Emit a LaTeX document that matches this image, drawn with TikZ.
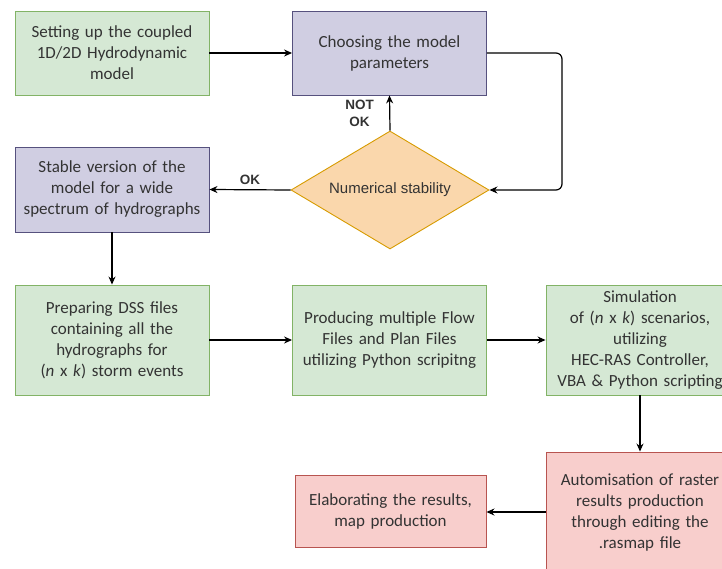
\documentclass[tikz,border=0pt]{standalone}
\usepackage{fontspec}
\setmainfont{Carlito}
\newfontfamily\arialfont{Liberation Sans}
\usetikzlibrary{shapes.geometric,arrows.meta,calc,positioning}
\definecolor{greenfill}{HTML}{D5E8D4}
\definecolor{greenline}{HTML}{82B366}
\definecolor{purplefill}{HTML}{D0CEE2}
\definecolor{purpleline}{HTML}{56517E}
\definecolor{orangefill}{HTML}{FAD7AC}
\definecolor{orangeline}{HTML}{D79B00}
\definecolor{redfill}{HTML}{F8CECC}
\definecolor{redline}{HTML}{B85450}
\definecolor{txt}{HTML}{333333}

\begin{document}
\begin{tikzpicture}[x=1pt,y=-1pt,
    box/.style={rectangle, draw, line width=0.9pt, align=center, inner sep=0pt,
      minimum width=194pt, text width=186pt, text=txt,
      font=\fontsize{17}{21}\selectfont},
    greenbox/.style={box, fill=greenfill, draw=greenline},
    purplebox/.style={box, fill=purplefill, draw=purpleline},
    redbox/.style={box, fill=redfill, draw=redline},
    decision/.style={diamond, draw=orangeline, fill=orangefill, line width=0.9pt,
      aspect=1.68, inner sep=0pt, minimum width=198pt, minimum height=118pt,
      text=txt, font=\arialfont\fontsize{15}{18}\selectfont},
    flow/.style={line width=1.2pt, -{Stealth[length=8pt,width=7pt]}},
    lbl/.style={font=\arialfont\bfseries\fontsize{13.5}{17}\selectfont, text=txt, align=center}]
        \clip (0,0) rectangle (722,569);
        \useasboundingbox (0,0) rectangle (722,569);
        %Top rows
        \node[greenbox, minimum height=84pt] (setup) at (112,53)
          {Setting up the coupled\\1D/2D Hydrodynamic\\model};
        \node[purplebox, minimum height=84pt] (params) at (389.5,53)
          {Choosing the model\\parameters};
        \node[decision] (stab) at (390,190) {Numerical stability};
        \node[purplebox, minimum height=85pt] (stable) at (112,189.5)
          {Stable version of the\\model for a wide\\spectrum of hydrographs};
        \coordinate (loop) at (562,190);
        %Middle row
        \node[greenbox, minimum height=110pt] (dss) at (112,340)
          {Preparing DSS files\\containing all the\\hydrographs for\\(\textit{n} x \textit{k}) storm events};
        \node[greenbox, minimum height=110pt] (flow) at (389.5,340)
          {Producing multiple Flow\\Files and Plan Files\\utilizing Python scripitng};
        \node[greenbox, minimum width=188pt, text width=180pt, minimum height=110pt] (sim) at (640,340)
          {Simulation\\of (\textit{n} x \textit{k}) scenarios,\\utilizing\\HEC-RAS Controller,\\VBA \& Python scripting};
        %Bottom row
        \node[redbox, minimum width=188pt, text width=180pt, minimum height=120pt] (raster) at (640,512)
          {Automisation of raster\\results production\\through editing the\\.rasmap file};
        \node[redbox, minimum width=191pt, minimum height=72pt] (maps) at (390.5,511)
          {Elaborating the results,\\map production};
        %Arrows
        \draw[flow] (setup) -- (params);
        \draw[flow, rounded corners=6pt] (params.east) -| (loop) -- (stab.east);
        \draw[flow] (stab.north) -- node[lbl, left=12pt] {NOT\\OK} (params.south);
        \draw[flow] (stab.west) -- node[lbl, above=1pt] {OK} (stable.east);
        \draw[flow] (stable.south) -- (dss.north);
        \draw[flow] (dss) -- (flow);
        \draw[flow] (flow) -- (sim);
        \draw[flow] (sim.south) -- (raster.north);
        \draw[flow] (raster.west) -- (raster.west -| maps.east);
\end{tikzpicture}
\end{document}
